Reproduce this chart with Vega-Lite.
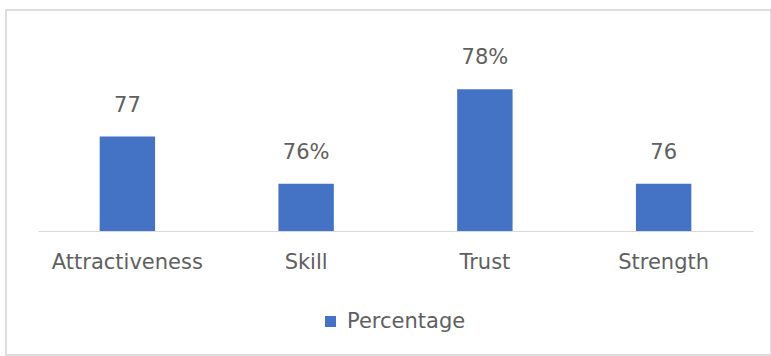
{
  "$schema": "https://vega.github.io/schema/vega-lite/v6.json",
  "autosize": "none",
  "width": 765,
  "height": 345,
  "padding": {"left": 6, "top": 10, "right": 0, "bottom": 1},
  "background": "white",
  "data": {
    "values": [
      {"category": "Attractiveness", "value": 77, "label": "77", "series": "Percentage"},
      {"category": "Skill", "value": 76, "label": "76%", "series": "Percentage"},
      {"category": "Trust", "value": 78, "label": "78%", "series": "Percentage"},
      {"category": "Strength", "value": 76, "label": "76", "series": "Percentage"}
    ]
  },
  "encoding": {
    "x": {
      "field": "category",
      "type": "nominal",
      "sort": null,
      "title": null,
      "scale": {"range": [32, 747], "paddingInner": 0.69, "paddingOuter": 0.345},
      "axis": {
        "offset": -124,
        "ticks": false,
        "domainColor": "#d9d9d9",
        "domainWidth": 1,
        "labelAngle": 0,
        "labelFont": "DejaVu Sans",
        "labelFontSize": 21,
        "labelColor": "#606060",
        "labelPadding": 20
      }
    },
    "y": {
      "field": "value",
      "type": "quantitative",
      "scale": {"domain": [75, 79], "range": [221, 32], "zero": false, "nice": false},
      "axis": null
    }
  },
  "layer": [
    {
      "mark": {"type": "bar", "clip": false},
      "encoding": {
        "y2": {"datum": 75},
        "color": {
          "field": "series",
          "type": "nominal",
          "scale": {"range": ["#4472C4"]},
          "legend": {
            "orient": "none",
            "legendX": 314,
            "legendY": 301,
            "title": null,
            "symbolType": "square",
            "symbolSize": 121,
            "labelFont": "DejaVu Sans",
            "labelFontSize": 21,
            "labelColor": "#606060",
            "labelOffset": 6
          }
        }
      }
    },
    {
      "mark": {"type": "text", "font": "DejaVu Sans", "fontSize": 21, "color": "#606060", "baseline": "alphabetic", "dy": -25},
      "encoding": {"text": {"field": "label"}}
    }
  ],
  "config": {
    "view": {"stroke": "#d4d4d4", "strokeWidth": 1.5},
    "axis": {"grid": false}
  }
}
